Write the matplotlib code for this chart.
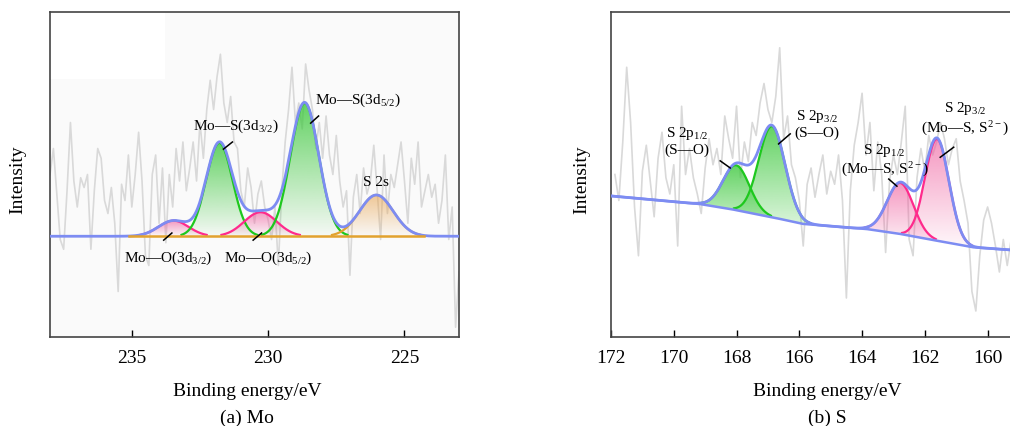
import numpy as np
import matplotlib
matplotlib.use('Agg')
import matplotlib.pyplot as plt
from matplotlib.colors import to_rgb
from matplotlib.patches import Rectangle

plt.rcParams['font.family'] = ['Liberation Serif', 'DejaVu Serif']
plt.rcParams['mathtext.fontset'] = 'custom'
plt.rcParams['mathtext.rm'] = 'Liberation Serif'
plt.rcParams['mathtext.it'] = 'Liberation Serif:italic'

# ---------------- (a) Mo 3d data ----------------
mo_x_start, mo_step = 238.0, 0.125
mo_raw = [0.50, 0.58, 0.44, 0.30, 0.27, 0.45, 0.66, 0.48, 0.40, 0.49,
          0.46, 0.50, 0.27, 0.45, 0.58, 0.55, 0.42, 0.38, 0.46, 0.35,
          0.14, 0.47, 0.42, 0.56, 0.40, 0.50, 0.63, 0.48, 0.25, 0.22,
          0.50, 0.56, 0.35, 0.52, 0.29, 0.50, 0.40, 0.58, 0.48, 0.60,
          0.45, 0.52, 0.60, 0.48, 0.66, 0.55, 0.70, 0.79, 0.70, 0.80,
          0.87, 0.72, 0.66, 0.74, 0.60, 0.58, 0.45, 0.40, 0.52, 0.46,
          0.35, 0.44, 0.48, 0.40, 0.36, 0.30, 0.40, 0.22, 0.45, 0.60,
          0.70, 0.83, 0.66, 0.72, 0.64, 0.84, 0.76, 0.70, 0.58, 0.66,
          0.55, 0.68, 0.56, 0.50, 0.62, 0.48, 0.40, 0.45, 0.19, 0.43,
          0.50, 0.38, 0.52, 0.44, 0.48, 0.59, 0.45, 0.30, 0.56, 0.38,
          0.50, 0.46, 0.53, 0.60, 0.48, 0.35, 0.55, 0.47, 0.60, 0.40,
          0.45, 0.50, 0.43, 0.47, 0.35, 0.42, 0.56, 0.30, 0.40, 0.03, 0.20]
mo_base = 0.31
mo_bg_span = [235.1, 224.3]
mo_centers = [233.47, 231.79, 230.28, 228.66, 226.03]
mo_heights = [0.048, 0.287, 0.074, 0.41, 0.127]
mo_sigmas = [0.55, 0.48, 0.60, 0.52, 0.62]
mo_kinds = ['pink', 'green', 'pink', 'green', 'orange']
mo_labels = [r'Mo—S(3d$_{\mathrm{3/2}}$)', r'Mo—S(3d$_{\mathrm{5/2}}$)', 'S 2s',
             r'Mo—O(3d$_{\mathrm{3/2}}$)', r'Mo—O(3d$_{\mathrm{5/2}}$)']
mo_label_xy = [(231.18, 0.652), (226.7, 0.732), (226.05, 0.48),
               (233.66, 0.246), (229.99, 0.246)]
mo_leaders = [((231.64, 0.578), (231.31, 0.60)), ((228.44, 0.658), (228.15, 0.68)), None,
              ((233.83, 0.298), (233.53, 0.32)), ((230.55, 0.298), (230.24, 0.32))]

# ---------------- (b) S 2p data ----------------
s_x_start, s_step = 171.875, 0.125
s_raw = [0.50, 0.42, 0.60, 0.83, 0.66, 0.40, 0.25, 0.51, 0.59, 0.48,
         0.37, 0.55, 0.63, 0.49, 0.44, 0.53, 0.28, 0.71, 0.50, 0.58,
         0.49, 0.44, 0.38, 0.52, 0.61, 0.53, 0.58, 0.50, 0.68, 0.61,
         0.55, 0.71, 0.49, 0.60, 0.54, 0.66, 0.62, 0.72, 0.78, 0.70,
         0.66, 0.74, 0.89, 0.61, 0.68, 0.53, 0.49, 0.42, 0.28, 0.47,
         0.52, 0.43, 0.50, 0.56, 0.44, 0.51, 0.47, 0.56, 0.42, 0.12,
         0.45, 0.59, 0.66, 0.75, 0.56, 0.66, 0.45, 0.60, 0.50, 0.26,
         0.48, 0.56, 0.50, 0.60, 0.71, 0.30, 0.25, 0.49, 0.58, 0.51,
         0.62, 0.56, 0.60, 0.66, 0.61, 0.53, 0.58, 0.61, 0.48, 0.42,
         0.35, 0.14, 0.08, 0.25, 0.36, 0.40, 0.35, 0.28, 0.20, 0.30,
         0.22, 0.30, 0.26, 0.32]
s_bg_x = [172.0, 169.16, 168.1, 166.6, 165.88, 163.84, 162.78, 161.6, 160.45, 159.0]
s_bg_y = [0.434, 0.409, 0.392, 0.363, 0.348, 0.332, 0.317, 0.296, 0.276, 0.266]
s_centers = [168.01, 166.87, 162.78, 161.61]
s_heights = [0.138, 0.28, 0.157, 0.313]
s_sigmas = [0.42, 0.42, 0.42, 0.38]
s_kinds = ['green', 'green', 'pink', 'pink']
s_labels = ['S 2p$_{\\mathrm{1/2}}$\n(S—O)', 'S 2p$_{\\mathrm{3/2}}$\n(S—O)',
            'S 2p$_{\\mathrm{1/2}}$\n(Mo—S, S$^{\\mathrm{2-}}$)',
            'S 2p$_{\\mathrm{3/2}}$\n(Mo—S, S$^{\\mathrm{2-}}$)']
s_label_xy = [(169.58, 0.606), (165.44, 0.658), (163.29, 0.545), (160.72, 0.674)]
s_leaders = [((168.52, 0.542), (168.2, 0.52)), ((166.66, 0.594), (166.29, 0.625)),
             ((163.15, 0.486), (162.89, 0.464)), ((161.51, 0.553), (161.08, 0.584))]

blue = '#7d8cf2'
gray = '#d9d9d9'
line_col = {'green': '#1ec81e', 'pink': '#ff2a8c', 'orange': '#e2a22e'}
fill_col = {'green': '#3cc83c', 'pink': '#f0609f', 'orange': '#e8a450'}
fill_alpha = {'green': 0.8, 'pink': 0.65, 'orange': 0.6}


def gauss(x, c, h, s):
    return h * np.exp(-(x - c) ** 2 / (2 * s * s))


def grad_fill(ax, x, lo, hi, color, a_top):
    poly = ax.fill_between(x, lo, hi, color='none', lw=0)
    path = poly.get_paths()[0]
    n = 200
    rgba = np.zeros((n, 1, 4))
    rgba[..., :3] = to_rgb(color)
    rgba[..., 3] = np.linspace(a_top, 0.03, n)[:, None]
    im = ax.imshow(rgba, extent=[x.min(), x.max(), lo.min(), hi.max()],
                   origin='upper', aspect='auto', zorder=2, interpolation='bilinear')
    im.set_clip_path(path, transform=ax.transData)


def style(ax, xlim, ticks, label_x):
    ax.set_xlim(*xlim)
    ax.set_ylim(0, 1)
    ax.set_xticks(ticks)
    ax.set_yticks([])
    ax.tick_params(axis='x', direction='in', length=5, width=1, pad=9, labelsize=14)
    for sp in ax.spines.values():
        sp.set_color('#444444')
        sp.set_linewidth(1.2)
    ax.set_xlabel('Binding energy/eV', fontsize=14)
    ax.set_ylabel('Intensity', fontsize=14)
    ax.xaxis.set_label_coords(label_x, -0.137)


def draw_panel(ax, x, bg, centers, heights, sigmas, kinds):
    comps = [gauss(x, c, h, s) for c, h, s in zip(centers, heights, sigmas)]
    for g, k in zip(comps, kinds):
        grad_fill(ax, x, bg, bg + g, fill_col[k], fill_alpha[k])
    for g, k in zip(comps, kinds):
        m = g > 0.004
        ax.plot(x[m], bg[m] + g[m], color=line_col[k], lw=1.6, zorder=3)
    ax.plot(x, bg + np.sum(comps, axis=0), color=blue, lw=2.0, zorder=4)


def annotate(ax, labels, xy, leaders):
    for lab, (tx, ty), ld in zip(labels, xy, leaders):
        ax.text(tx, ty, lab, fontsize=11, ha='center', va='center',
                multialignment='center', linespacing=1.15, zorder=6)
        if ld is not None:
            ax.plot([ld[0][0], ld[1][0]], [ld[0][1], ld[1][1]], color='black', lw=1.1, zorder=6)


fig = plt.figure(figsize=(10.1, 4.27), dpi=100)
ax1 = fig.add_axes([50 / 1010, 89 / 427, 409 / 1010, 325 / 427])
ax2 = fig.add_axes([611 / 1010, 89 / 427, 408 / 1010, 325 / 427])

# panel (a)
ax1.set_facecolor('#fafafa')
ax1.add_patch(Rectangle((0, 0.795), 0.28, 0.205, transform=ax1.transAxes,
                        facecolor='white', edgecolor='none', zorder=0.5))
mo_rx = mo_x_start - mo_step * np.arange(len(mo_raw))
ax1.plot(mo_rx, mo_raw, color=gray, lw=1.2, zorder=1)
x1 = np.linspace(223, 238, 800)
draw_panel(ax1, x1, np.full_like(x1, mo_base), mo_centers, mo_heights, mo_sigmas, mo_kinds)
ax1.plot(mo_bg_span, [mo_base, mo_base], color=line_col['orange'], lw=1.8, zorder=5)
annotate(ax1, mo_labels, mo_label_xy, mo_leaders)
style(ax1, (238, 223), [235, 230, 225], 0.482)
ax1.yaxis.set_label_coords(-0.058, 0.486)

# panel (b)
s_rx = s_x_start - s_step * np.arange(len(s_raw))
ax2.plot(s_rx, s_raw, color=gray, lw=1.2, zorder=1)
x2 = np.linspace(159, 172, 800)
bg2 = np.interp(x2, s_bg_x[::-1], s_bg_y[::-1])
draw_panel(ax2, x2, bg2, s_centers, s_heights, s_sigmas, s_kinds)
ax2.plot(s_bg_x, s_bg_y, color=blue, lw=1.8, zorder=4)
annotate(ax2, s_labels, s_label_xy, s_leaders)
style(ax2, (172, 159), [172, 170, 168, 166, 164, 162, 160], 0.53)
ax2.yaxis.set_label_coords(-0.051, 0.486)

fig.text(247 / 1010, 1 - 418 / 427, '(a) Mo', fontsize=14, ha='center', va='center')
fig.text(827 / 1010, 1 - 418 / 427, '(b) S', fontsize=14, ha='center', va='center')

fig.savefig('out.png', dpi=100)
